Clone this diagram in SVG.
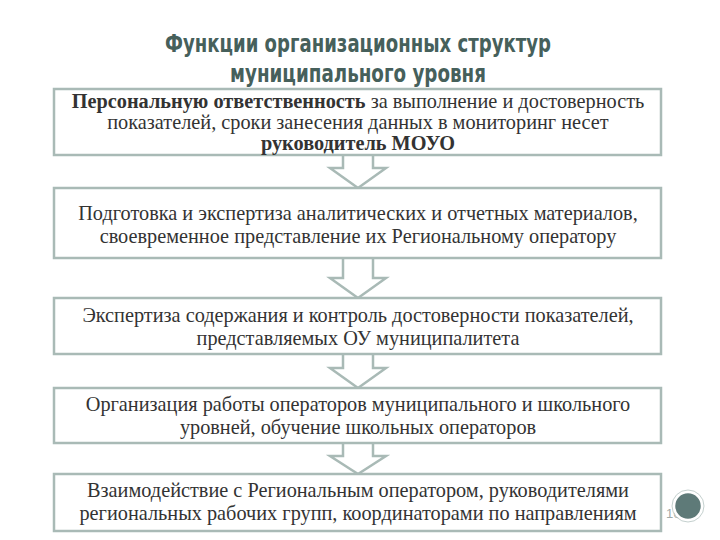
<svg xmlns="http://www.w3.org/2000/svg" width="720" height="540" viewBox="0 0 720 540">
<style>
.box{fill:#fff;stroke:#a9bab6;stroke-width:2.5}
.arr{fill:#fff;stroke:#a9bab6;stroke-width:2.5;stroke-linejoin:miter}
.t{font-family:'Liberation Serif','DejaVu Serif',serif;font-size:20.3px;fill:#333;text-anchor:middle}
.b{font-weight:bold}
.h{font-family:'DejaVu Sans Condensed','DejaVu Sans',sans-serif;font-stretch:condensed;font-weight:bold;font-size:24px;fill:#46605b;text-anchor:middle}
</style>
<rect width="720" height="540" fill="#fff"/>
<text class="h" x="358" y="52" textLength="386" lengthAdjust="spacingAndGlyphs">Функции организационных структур</text>
<text class="h" x="358" y="82" textLength="256" lengthAdjust="spacingAndGlyphs">муниципального уровня</text>
<g id="connectors">
<path class="arr" d="M343,155 V168 H330 L358,188 L386,168 H373 V155"/>
<path class="arr" d="M343,258 V278 H330 L358,298 L386,278 H373 V258"/>
<path class="arr" d="M343,354 V368 H330 L358,388 L386,368 H373 V354"/>
<path class="arr" d="M343,443 V456 H330 L358,474 L386,456 H373 V443"/>
</g>
<g id="n1"><rect class="box" x="54" y="89" width="607" height="66"/>
<text class="t" x="358" y="108"><tspan class="b">Персональную ответственность</tspan> за выполнение и достоверность</text>
<text class="t" x="358" y="129">показателей, сроки занесения данных в мониторинг несет</text>
<text class="t b" x="358" y="150">руководитель МОУО</text></g>
<g id="n2"><rect class="box" x="54" y="188" width="607" height="70"/>
<text class="t" x="358" y="220">Подготовка и экспертиза аналитических и отчетных материалов,</text>
<text class="t" x="358" y="243">своевременное представление их Региональному оператору</text></g>
<g id="n3"><rect class="box" x="54" y="298" width="607" height="56"/>
<text class="t" x="358" y="322">Экспертиза содержания и  контроль достоверности показателей,</text>
<text class="t" x="358" y="345">представляемых ОУ муниципалитета</text></g>
<g id="n4"><rect class="box" x="54" y="388" width="607" height="55"/>
<text class="t" x="358" y="411">Организация работы операторов муниципального и школьного</text>
<text class="t" x="358" y="434">уровней, обучение школьных операторов</text></g>
<g id="n5"><rect class="box" x="54" y="474" width="607" height="57"/>
<text class="t" x="358" y="497">Взаимодействие с Региональным оператором, руководителями</text>
<text class="t" x="358" y="520">региональных рабочих групп, координаторами по направлениям</text></g>
<g id="page">
<text x="666" y="518" font-family="Liberation Sans,sans-serif" font-size="13" fill="#a0aaa8">16</text>
<circle cx="688" cy="506" r="14" fill="#5e7a78" stroke="#fff" stroke-width="2.5"/>
<circle cx="688" cy="506" r="16" fill="none" stroke="#c4d0ce" stroke-width="1"/>
</g>
</svg>
